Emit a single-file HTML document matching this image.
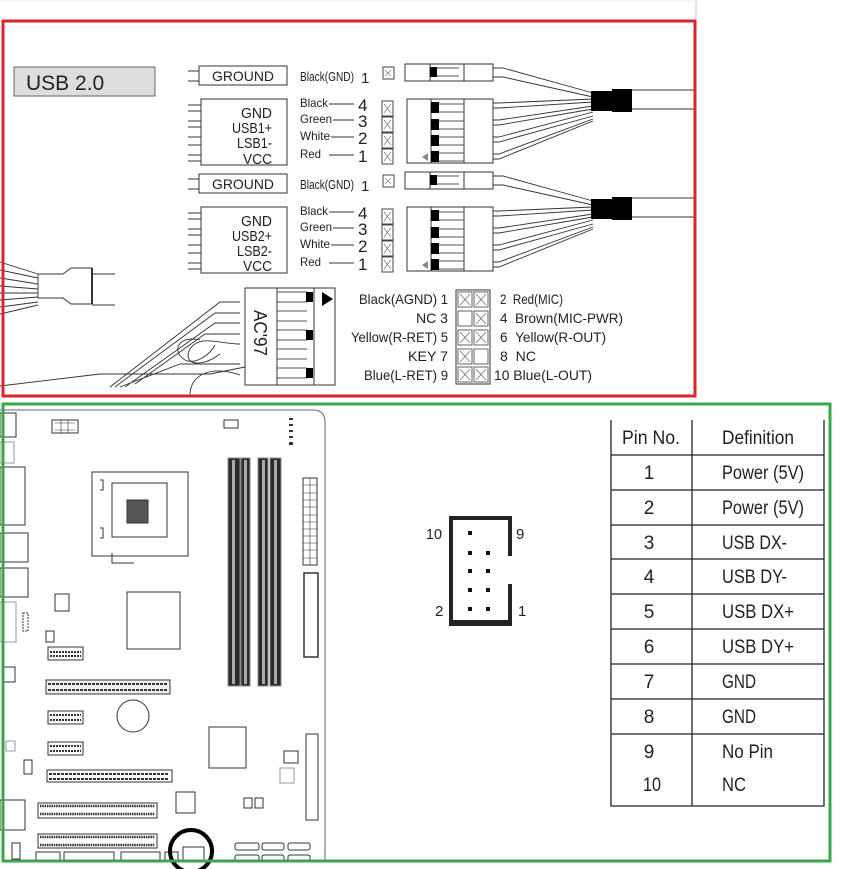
<!DOCTYPE html>
<html><head><meta charset="utf-8"><style>
html,body{margin:0;padding:0;background:#fff;}
svg{display:block;font-family:"Liberation Sans",sans-serif;}
</style></head><body>
<svg width="857" height="869" viewBox="0 0 857 869" xmlns="http://www.w3.org/2000/svg">
<rect width="857" height="869" fill="#fff"/>
<line x1="696" y1="0" x2="696" y2="20" stroke="#ccc"/>
<line x1="0" y1="1" x2="696" y2="1" stroke="#eee"/>
<rect x="14" y="67" width="141" height="29" fill="#ddd" stroke="#666"/>
<text x="26" y="90" font-size="21" fill="#222">USB 2.0</text>

<defs>
<g id="usb">
 <line x1="188" y1="71" x2="200" y2="71" stroke="#333"/><line x1="188" y1="81" x2="200" y2="81" stroke="#333"/>
 <rect x="199" y="66" width="88" height="19" fill="#fff" stroke="#333"/>
 <text x="243" y="81" font-size="14" text-anchor="middle" fill="#222" textLength="62" lengthAdjust="spacingAndGlyphs">GROUND</text>
 <g stroke="#333"><line x1="188" y1="105" x2="202" y2="105"/><line x1="188" y1="111" x2="202" y2="111"/><line x1="188" y1="121" x2="202" y2="121"/><line x1="188" y1="127" x2="202" y2="127"/><line x1="188" y1="137" x2="202" y2="137"/><line x1="188" y1="145" x2="202" y2="145"/><line x1="188" y1="155" x2="202" y2="155"/><line x1="188" y1="161" x2="202" y2="161"/></g>
 <rect x="201" y="99" width="86" height="66" fill="#fff" stroke="#333"/>
 <text x="300" y="81" font-size="13" fill="#222" textLength="54" lengthAdjust="spacingAndGlyphs">Black(GND)</text><text x="361" y="83" font-size="15" fill="#222">1</text>
 <g font-size="12" fill="#222"><text x="300" y="107" textLength="28" lengthAdjust="spacingAndGlyphs">Black</text><text x="300" y="123" textLength="32" lengthAdjust="spacingAndGlyphs">Green</text><text x="300" y="140" textLength="30" lengthAdjust="spacingAndGlyphs">White</text><text x="300" y="158" textLength="21" lengthAdjust="spacingAndGlyphs">Red</text></g>
 <g stroke="#333"><line x1="329" y1="104" x2="354" y2="104"/><line x1="333" y1="120" x2="354" y2="120"/><line x1="331" y1="137" x2="354" y2="137"/><line x1="329" y1="155" x2="354" y2="155"/></g>
 <g font-size="17" fill="#222"><text x="358" y="111">4</text><text x="358" y="127">3</text><text x="358" y="144">2</text><text x="358" y="162">1</text></g>
 <g fill="#fff" stroke="#444"><rect x="383" y="67" width="11" height="12"/><rect x="382" y="101" width="11" height="15"/><rect x="382" y="117" width="11" height="15"/><rect x="382" y="133" width="11" height="15"/><rect x="382" y="149" width="11" height="15"/></g>
 <g stroke="#777" stroke-width=".7"><path d="M385 70l6 6M391 70l-6 6M384 104l7 9M391 104l-7 9M384 120l7 9M391 120l-7 9M384 136l7 9M391 136l-7 9M384 152l7 9M391 152l-7 9"/></g>
 <rect x="405" y="64" width="88" height="17" fill="#fff" stroke="#333"/>
 <line x1="430" y1="64" x2="430" y2="81" stroke="#333"/><line x1="464" y1="64" x2="464" y2="81" stroke="#333"/>
 <rect x="430" y="67" width="7" height="10" fill="#000"/><path d="M437 68h22M437 76h22" stroke="#555"/>
 <rect x="407" y="99" width="86" height="64" fill="#fff" stroke="#333"/>
 <line x1="431" y1="99" x2="431" y2="163" stroke="#333"/><line x1="464" y1="99" x2="464" y2="163" stroke="#333"/>
 <g fill="#000"><rect x="431" y="102" width="8" height="11"/><rect x="431" y="119" width="8" height="11"/><rect x="431" y="135" width="8" height="11"/><rect x="431" y="151" width="8" height="11"/></g>
 <g stroke="#555" fill="none"><path d="M439 104h25M439 112h25M439 121h25M439 129h25M439 137h25M439 145h25M439 153h25M439 161h25"/></g>
 <path d="M422 157l6-4v8z" fill="#888"/>
 <g stroke="#333" fill="none" stroke-width=".9">
  <path d="M493 68h10l90 25M493 77h10l90 20"/>
  <path d="M493 103h6l94 -4M493 108h6l94 -6M493 120h6l94 -14M493 125h6l94 -16M493 137h6l94 -25M493 142h6l94 -26M493 154h6l94 -35M493 159h6l94 -38"/>
  <path d="M632 90h63M632 109h63"/>
 </g>
 <rect x="591" y="91" width="22" height="20" fill="#000"/><rect x="612" y="89" width="20" height="23" fill="#000"/>
</g>
</defs>
<use href="#usb"/>
<use href="#usb" transform="translate(0,108)"/>
<g font-size="15" fill="#222" text-anchor="end"><text x="272" y="118" textLength="31" lengthAdjust="spacingAndGlyphs">GND</text><text x="272" y="133" textLength="40" lengthAdjust="spacingAndGlyphs">USB1+</text><text x="272" y="148" textLength="35" lengthAdjust="spacingAndGlyphs">LSB1-</text><text x="272" y="164" textLength="29" lengthAdjust="spacingAndGlyphs">VCC</text>
<text x="272" y="226" textLength="31" lengthAdjust="spacingAndGlyphs">GND</text><text x="272" y="241" textLength="40" lengthAdjust="spacingAndGlyphs">USB2+</text><text x="272" y="256" textLength="35" lengthAdjust="spacingAndGlyphs">LSB2-</text><text x="272" y="271" textLength="29" lengthAdjust="spacingAndGlyphs">VCC</text></g>

<g stroke="#333" fill="none" stroke-width=".9">
 <path d="M0 262l38 12M0 270l38 8M0 278l38 6M0 286l38 3M0 293l38 0M0 300l38 -3M0 307l38 -5M0 314l38 -9"/>
 <path d="M38 274h25l8 -6h21v36h-21l-8 -6h-25z" fill="#fff"/>
 <path d="M92 274h23M92 305h23"/>
 <path d="M92 268v36" stroke-width="2"/>
 <path d="M0 386l100 -12h110l35 -7M240 302h-20l-110 85M240 313h-25l-100 74M240 323h-25l-90 64M240 334h-35l-70 50M240 344c-20 0 -40 -10 -50 5c-8 15 10 20 30 5M240 364h-60l-60 23M240 375c-30 -10 -50 0 -50 20"/>
 <path d="M200 340c-20 -5 -30 10 -15 20c10 5 25 -5 30 -15"/>
</g>
<rect x="245" y="288" width="90" height="97" fill="#fff" stroke="#333"/>
<line x1="277" y1="288" x2="277" y2="385" stroke="#333"/><line x1="314" y1="288" x2="314" y2="385" stroke="#333"/>
<g stroke="#555" fill="#fff"><path d="M277 292h30M277 302h30M277 311h30M277 321h30M277 330h30M277 340h30M277 349h30M277 359h30M277 368h30M277 378h30"/></g>
<g fill="#000"><rect x="306" y="292" width="7" height="10"/><rect x="306" y="330" width="7" height="10"/><rect x="306" y="368" width="7" height="10"/></g>
<path d="M322 292l11 7l-11 7z" fill="#000"/>
<text x="0" y="0" font-size="18" fill="#222" transform="translate(254,310) rotate(90)" textLength="46" lengthAdjust="spacingAndGlyphs">AC'97</text>
<g font-size="14" fill="#222" text-anchor="end"><text x="448" y="304" textLength="89" lengthAdjust="spacingAndGlyphs">Black(AGND) 1</text><text x="448" y="323" textLength="32" lengthAdjust="spacingAndGlyphs">NC 3</text><text x="448" y="342" textLength="97" lengthAdjust="spacingAndGlyphs">Yellow(R-RET) 5</text><text x="448" y="361" textLength="40" lengthAdjust="spacingAndGlyphs">KEY 7</text><text x="448" y="380" textLength="84" lengthAdjust="spacingAndGlyphs">Blue(L-RET) 9</text></g>
<g font-size="14" fill="#222"><text x="500" y="304" textLength="63" lengthAdjust="spacingAndGlyphs">2&#160;&#160;Red(MIC)</text><text x="500" y="323" textLength="123" lengthAdjust="spacingAndGlyphs">4&#160;&#160;Brown(MIC-PWR)</text><text x="500" y="342" textLength="106" lengthAdjust="spacingAndGlyphs">6&#160;&#160;Yellow(R-OUT)</text><text x="500" y="361" textLength="36" lengthAdjust="spacingAndGlyphs">8&#160;&#160;NC</text><text x="494" y="380" textLength="98" lengthAdjust="spacingAndGlyphs">10 Blue(L-OUT)</text></g>
<rect x="456" y="290" width="34" height="94" fill="#fff" stroke="#333"/>
<g fill="none" stroke="#666"><rect x="458" y="292" width="14" height="15"/><rect x="474" y="292" width="14" height="15"/><rect x="458" y="311" width="14" height="15"/><rect x="474" y="311" width="14" height="15"/><rect x="458" y="330" width="14" height="15"/><rect x="474" y="330" width="14" height="15"/><rect x="458" y="349" width="14" height="15"/><rect x="474" y="349" width="14" height="15"/><rect x="458" y="367" width="14" height="15"/><rect x="474" y="367" width="14" height="15"/>
<path stroke-width=".7" d="M460 294l10 11M470 294l-10 11M476 294l10 11M486 294l-10 11M476 313l10 11M486 313l-10 11M460 332l10 11M470 332l-10 11M476 332l10 11M486 332l-10 11M460 351l10 11M470 351l-10 11M460 369l10 11M470 369l-10 11M476 369l10 11M486 369l-10 11"/></g>

<rect x="3" y="21" width="692" height="375" fill="none" stroke="#d9262e" stroke-width="3"/>

<g stroke="#333" fill="#fff" stroke-width="1">
 <path d="M0 410h313q12 0 12 12v438" fill="none" stroke="#666"/>
 <rect x="0" y="413" width="16" height="24"/><rect x="0" y="442" width="14" height="21" stroke="#999"/><rect x="0" y="467" width="25" height="58"/><rect x="0" y="533" width="28" height="29"/><rect x="0" y="568" width="28" height="29"/><rect x="0" y="602" width="16" height="40" stroke="#999"/><rect x="3" y="667" width="12" height="15"/><rect x="6" y="741" width="9" height="10" stroke="#999"/><rect x="0" y="800" width="25" height="30"/>
 <rect x="23" y="613" width="5" height="18" stroke-dasharray="2 1"/>
 <rect x="52" y="420" width="26" height="13"/><path d="M55 423h20M55 430h20M61 420v13M68 420v13" stroke-width=".6"/>
 <rect x="224" y="420" width="14" height="8"/>
 <g fill="#333" stroke="none"><rect x="289" y="418" width="4" height="2"/><rect x="289" y="424" width="4" height="2"/><rect x="289" y="430" width="4" height="2"/><rect x="289" y="436" width="4" height="2"/><rect x="289" y="442" width="4" height="3"/></g>
 <path d="M92 472h96v84h-96z M100 480h3v10h-3M100 528h3v10h-3"/>
 <rect x="112" y="483" width="55" height="54"/>
 <rect x="127" y="500" width="21" height="23" fill="#555"/>
 <path d="M112 553v10h22" fill="none"/>
 <rect x="55" y="594" width="14" height="17"/><rect x="46" y="631" width="8" height="11"/>
 <rect x="127" y="592" width="53" height="57"/>
 <rect x="228" y="458" width="12" height="228" fill="#2a2a2a" stroke="#888"/><rect x="241" y="458" width="9" height="228" fill="#2a2a2a" stroke="#888"/><rect x="258" y="458" width="10" height="228" fill="#2a2a2a" stroke="#888"/><rect x="270" y="458" width="11" height="228" fill="#2a2a2a" stroke="#888"/>
 <g fill="#aaa" stroke="none"><rect x="232" y="460" width="3" height="224"/><rect x="244" y="460" width="3" height="224"/><rect x="262" y="460" width="3" height="224"/><rect x="274" y="460" width="3" height="224"/></g>
 <rect x="303" y="478" width="14" height="87"/><path d="M310 478v87M303 485h14M303 493h14M303 500h14M303 507h14M303 515h14M303 522h14M303 529h14M303 536h14M303 543h14M303 550h14M303 558h14" stroke-width=".6"/>
 <rect x="304" y="573" width="14" height="84" stroke-width="1.5"/>
 <rect x="48" y="647" width="35" height="13"/><path d="M50 652h31M50 656h31" stroke-width="2" stroke-dasharray="2 1"/>
 <rect x="46" y="680" width="124" height="14" fill="#eee"/><path d="M48 684h120M48 690h120" stroke-width="2" stroke-dasharray="3 1"/>
 <circle cx="133" cy="716" r="16"/>
 <rect x="48" y="711" width="35" height="13"/><path d="M50 715h31M50 720h31" stroke-width="2" stroke-dasharray="2 1"/>
 <rect x="48" y="742" width="35" height="13"/><path d="M50 746h31M50 751h31" stroke-width="2" stroke-dasharray="2 1"/>
 <rect x="47" y="770" width="125" height="12"/><path d="M49 774h120M49 779h120" stroke-width="2" stroke-dasharray="3 1"/>
 <rect x="24" y="760" width="8" height="14"/>
 <rect x="38" y="803" width="119" height="15"/><path d="M40 806h115M40 814h115" stroke-width="2.5" stroke-dasharray="1.5 .8"/>
 <rect x="38" y="834" width="119" height="14"/><path d="M40 837h115M40 845h115" stroke-width="2.5" stroke-dasharray="1.5 .8"/>
 <rect x="209" y="727" width="37" height="41"/>
 <rect x="176" y="792" width="19" height="21"/>
 <rect x="244" y="798" width="8" height="10"/><rect x="255" y="798" width="8" height="10"/>
 <rect x="306" y="734" width="12" height="86"/>
 <rect x="284" y="751" width="14" height="12"/><rect x="280" y="768" width="14" height="15" stroke="#999"/>
 <rect x="235" y="843" width="24" height="7" rx="2"/><rect x="262" y="843" width="22" height="7" rx="2"/><rect x="288" y="843" width="22" height="7" rx="2"/>
 <rect x="235" y="855" width="24" height="7" rx="2"/><rect x="262" y="855" width="22" height="7" rx="2"/><rect x="288" y="855" width="22" height="7" rx="2"/>
 <rect x="12" y="843" width="8" height="16"/><rect x="36" y="852" width="24" height="10"/><rect x="64" y="852" width="50" height="10"/><rect x="121" y="852" width="39" height="10"/><rect x="165" y="852" width="13" height="10"/><rect x="183" y="847" width="21" height="15"/>
</g>
<circle cx="191" cy="851" r="21" fill="none" stroke="#000" stroke-width="4"/>
<rect x="3" y="404" width="827" height="457" fill="none" stroke="#3aa54a" stroke-width="3"/>

<path d="M449 516h63v40h-4v-36h-55v100h55v-36h4v42h-63z" fill="#222"/>
<g fill="#111"><rect x="468" y="531" width="4" height="4"/><rect x="468" y="551" width="4" height="4"/><rect x="486" y="551" width="4" height="4"/><rect x="468" y="569" width="4" height="4"/><rect x="486" y="569" width="4" height="4"/><rect x="468" y="588" width="4" height="4"/><rect x="486" y="588" width="4" height="4"/><rect x="468" y="607" width="4" height="4"/><rect x="486" y="607" width="4" height="4"/></g>
<g font-size="15" fill="#222"><text x="426" y="539" textLength="16" lengthAdjust="spacingAndGlyphs">10</text><text x="516" y="539">9</text><text x="435" y="616">2</text><text x="518" y="616">1</text></g>

<g stroke="#222" stroke-width="1.3" fill="none">
 <path d="M611 420v386h213v-386M692 420v386"/>
 <path d="M611 455h213M611 490h213M611 525h213M611 559h213M611 594h213M611 629h213M611 664h213M611 699h213M611 734h213"/>
</g>
<g font-size="19" fill="#222">
 <text x="622" y="444" textLength="58" lengthAdjust="spacingAndGlyphs">Pin No.</text><text x="722" y="444" textLength="72" lengthAdjust="spacingAndGlyphs">Definition</text>
 <g text-anchor="middle"><text x="649" y="479">1</text><text x="649" y="514">2</text><text x="649" y="549">3</text><text x="649" y="583">4</text><text x="649" y="618">5</text><text x="649" y="653">6</text><text x="649" y="688">7</text><text x="649" y="723">8</text><text x="649" y="758">9</text><text x="652" y="791" textLength="18" lengthAdjust="spacingAndGlyphs">10</text></g>
 <text x="722" y="479" textLength="82" lengthAdjust="spacingAndGlyphs">Power (5V)</text><text x="722" y="514" textLength="82" lengthAdjust="spacingAndGlyphs">Power (5V)</text><text x="722" y="549" textLength="65" lengthAdjust="spacingAndGlyphs">USB DX-</text><text x="722" y="583" textLength="65" lengthAdjust="spacingAndGlyphs">USB DY-</text><text x="722" y="618" textLength="72" lengthAdjust="spacingAndGlyphs">USB DX+</text><text x="722" y="653" textLength="72" lengthAdjust="spacingAndGlyphs">USB DY+</text><text x="722" y="688" textLength="34" lengthAdjust="spacingAndGlyphs">GND</text><text x="722" y="723" textLength="34" lengthAdjust="spacingAndGlyphs">GND</text><text x="722" y="758" textLength="51" lengthAdjust="spacingAndGlyphs">No Pin</text><text x="722" y="791" textLength="24" lengthAdjust="spacingAndGlyphs">NC</text>
</g>
</svg>
</body></html>
